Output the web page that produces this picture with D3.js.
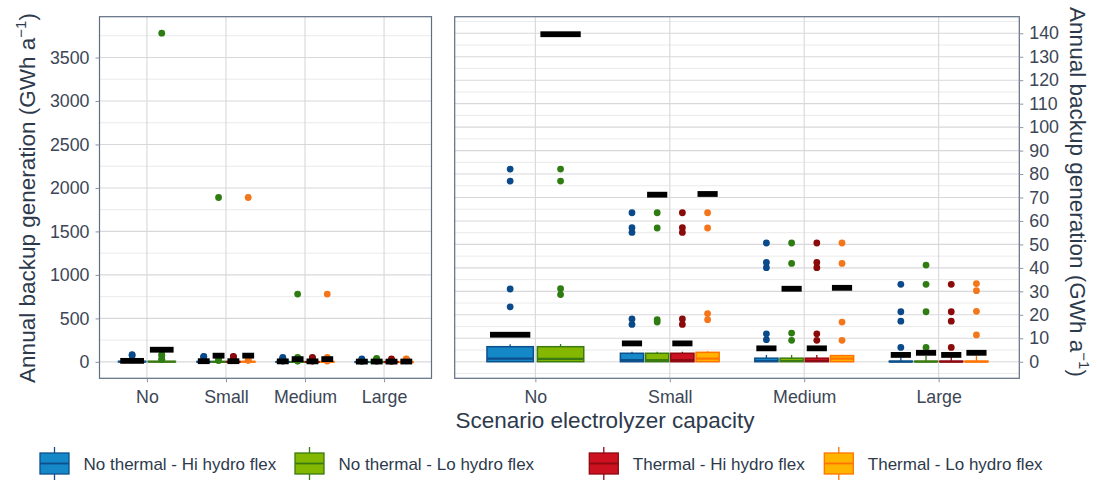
<!DOCTYPE html>
<meta charset="utf-8">
<style>
  body { margin: 0; background: #fff; }
  text { font-family: "Liberation Sans", Arial, sans-serif; }
</style>
<body>
<svg id="chart" width="1097" height="481"></svg>
<script src="https://d3js.org/d3.v7.min.js"></script>
<script>
// ---- data (GWh a^-1) ----
var categories = ["No", "Small", "Medium", "Large"];
var groups = ["No thermal - Hi hydro flex", "No thermal - Lo hydro flex",
              "Thermal - Hi hydro flex", "Thermal - Lo hydro flex"];

// box stats per category: [lower whisker, q1, median, q3, upper whisker]; null = scenario absent
var boxNoThermalHi = [[0, 0, 1.3, 6.4, 7.4], [0, 0, 0.7, 3.6, 4.3], [0, 0, 0.3, 1.5, 2.9], [0, 0, 0, 0.2, 2.5]];
var boxNoThermalLo = [[0, 0, 1.2, 6.4, 7.5], [0, 0, 0.7, 3.6, 4.3], [0, 0, 0.3, 1.5, 2.9], [0, 0, 0, 0.2, 2.5]];
var boxThermalHi   = [null, [0, 0, 0.7, 3.6, 4.3], [0, 0, 0.3, 1.5, 2.9], [0, 0, 0, 0.2, 2.5]];
var boxThermalLo   = [null, [0, 0, 1.3, 4.0, 4.5], [0, 0, 1.3, 2.6, 3.0], [0, 0, 0, 0.2, 2.5]];

var meanNoThermalHi = [11.5, 7.8, 5.7, 2.9];
var meanNoThermalLo = [139.6, 71.2, 31.1, 3.8];
var meanThermalHi   = [null, 7.8, 5.7, 2.9];
var meanThermalLo   = [null, 71.5, 31.5, 3.8];

var outNoThermalHi = [[82.1, 77.0, 31.0, 23.4], [63.5, 57.1, 55.1, 18.2, 15.9], [50.6, 42.3, 40.1, 11.9, 9.4], [33.0, 21.3, 17.3, 6.1]];
var outNoThermalLo = [[3780, 82.1, 77.0, 31.1, 28.6], [1890, 63.5, 57.0, 17.9, 16.9], [780, 50.6, 41.9, 12.2, 9.1], [41.2, 33.0, 21.3, 6.1]];
var outThermalHi   = [null, [63.5, 57.1, 55.1, 18.2, 15.9], [50.6, 42.3, 40.1, 11.9, 9.1], [33.0, 21.3, 17.3, 6.1]];
var outThermalLo   = [null, [1890, 63.5, 57.0, 20.5, 17.9], [780, 50.6, 41.9, 16.9, 9.1], [33.3, 30.3, 21.5, 11.4]];

var leftTicks = [0, 500, 1000, 1500, 2000, 2500, 3000, 3500];
var rightTicks = d3.range(0, 141, 10);

// ---- styling ----
var fills   = ["#1589c8", "#84b800", "#cc1120", "#ffb400"];
var strokes = ["#0d4f8b", "#3a7a10", "#8e0a12", "#ff7400"];
var dots    = ["#0b4a8a", "#2f7d12", "#8b0a0a", "#f5761a"];
var textCol = "#2d3a4c";

var boxes = [boxNoThermalHi, boxNoThermalLo, boxThermalHi, boxThermalLo];
var means = [meanNoThermalHi, meanNoThermalLo, meanThermalHi, meanThermalLo];
var outs  = [outNoThermalHi, outNoThermalLo, outThermalHi, outThermalLo];

// flatten into one record per (category, group)
var records = [];
categories.forEach(function(c, ci) {
    var present = d3.range(groups.length).filter(function(g) { return boxes[g][ci] != null; });
    present.forEach(function(g, k) {
        records.push({ cat: c, g: g, k: k, n: present.length,
                       box: boxes[g][ci], mean: means[g][ci], outs: outs[g][ci] });
    });
});

var svg = d3.select("#chart");
var panelTop = 16.7, panelBottom = 378.3;

function drawPanel(id, x0, x1, domain, ticks, minorStep, side) {
    var x = d3.scalePoint().domain(categories).range([x0, x1]).padding(0.6);
    var y = d3.scaleLinear().domain(domain).range([panelBottom, panelTop]);
    var step = x.step();
    var g = svg.append("g");

    g.append("clipPath").attr("id", id).append("rect")
        .attr("x", x0).attr("y", panelTop).attr("width", x1 - x0).attr("height", panelBottom - panelTop);

    // grid
    var minor = d3.range(Math.ceil(domain[0] / minorStep) * minorStep, domain[1], minorStep)
        .filter(function(v) { return ticks.indexOf(v) < 0; });
    g.selectAll(".minor").data(minor).enter().append("line")
        .attr("x1", x0).attr("x2", x1).attr("y1", y).attr("y2", y)
        .attr("stroke", "#e4e4e6").attr("stroke-width", 0.8);
    g.selectAll(".major").data(ticks).enter().append("line")
        .attr("x1", x0).attr("x2", x1).attr("y1", y).attr("y2", y)
        .attr("stroke", "#d8d8dc").attr("stroke-width", 1.1);
    g.selectAll(".vgrid").data(categories).enter().append("line")
        .attr("x1", x).attr("x2", x).attr("y1", panelTop).attr("y2", panelBottom)
        .attr("stroke", "#d8d8dc").attr("stroke-width", 1.1);

    var plot = g.append("g").attr("clip-path", "url(#" + id + ")");
    function slot(d) { return step * 0.75 / d.n; }
    function cx(d) { return x(d.cat) - step * 0.375 + slot(d) * (d.k + 0.5); }

    var rec = plot.selectAll(".rec").data(records).enter().append("g");
    // whiskers
    rec.append("line")
        .attr("x1", cx).attr("x2", cx)
        .attr("y1", function(d) { return y(d.box[4]); })
        .attr("y2", function(d) { return y(d.box[0]); })
        .attr("stroke", function(d) { return strokes[d.g]; }).attr("stroke-width", 1.3);
    // box
    rec.append("rect")
        .attr("x", function(d) { return cx(d) - slot(d) * 0.46; })
        .attr("width", function(d) { return slot(d) * 0.92; })
        .attr("y", function(d) { return y(d.box[3]); })
        .attr("height", function(d) { return Math.max(y(d.box[1]) - y(d.box[3]), 0.5); })
        .attr("fill", function(d) { return fills[d.g]; })
        .attr("stroke", function(d) { return strokes[d.g]; }).attr("stroke-width", 1.5);
    // median
    rec.append("line")
        .attr("x1", function(d) { return cx(d) - slot(d) * 0.46; })
        .attr("x2", function(d) { return cx(d) + slot(d) * 0.46; })
        .attr("y1", function(d) { return y(d.box[2]); })
        .attr("y2", function(d) { return y(d.box[2]); })
        .attr("stroke", function(d) { return strokes[d.g]; }).attr("stroke-width", 2.2);
    // outliers
    rec.selectAll("circle").data(function(d) {
            return d.outs.map(function(v) { return { v: v, d: d }; });
        }).enter().append("circle")
        .attr("cx", function(o) { return cx(o.d); })
        .attr("cy", function(o) { return y(o.v); })
        .attr("r", 3.4)
        .attr("fill", function(o) { return dots[o.d.g]; });
    // means
    rec.append("rect")
        .attr("x", function(d) { return cx(d) - slot(d) * 0.4; })
        .attr("width", function(d) { return slot(d) * 0.8; })
        .attr("y", function(d) { return y(d.mean) - 2.9; })
        .attr("height", 5.8)
        .attr("fill", "#000");

    // border
    g.append("rect").attr("x", x0).attr("y", panelTop).attr("width", x1 - x0).attr("height", panelBottom - panelTop)
        .attr("fill", "none").attr("stroke", "#5f6e82").attr("stroke-width", 1.2);

    // axes
    var xa = g.append("g").attr("transform", "translate(0," + panelBottom + ")")
        .call(d3.axisBottom(x).tickSize(4).tickPadding(5));
    var ya;
    if (side == "left") {
        ya = g.append("g").attr("transform", "translate(" + x0 + ",0)")
            .call(d3.axisLeft(y).tickValues(ticks).tickFormat(d3.format("d")).tickSize(4).tickPadding(6));
    } else {
        ya = g.append("g").attr("transform", "translate(" + x1 + ",0)")
            .call(d3.axisRight(y).tickValues(ticks).tickFormat(d3.format("d")).tickSize(4).tickPadding(6));
    }
    [xa, ya].forEach(function(a) {
        a.select(".domain").remove();
        a.selectAll(".tick line").attr("stroke", "#8a94a2");
        a.selectAll(".tick text").attr("fill", "#3c4656").style("font-size", "17.8px")
            .style("font-family", "'Liberation Sans', Arial, sans-serif");
    });
    xa.selectAll(".tick text").attr("dy", "0.88em");
}

drawPanel("clipL", 99.5, 431.5, [-189, 3969], leftTicks, 250, "left");
drawPanel("clipR", 454.7, 1019.3, [-7.07, 147.07], rightTicks, 5, "right");

// axis titles
function unitTitle(sel) {
    sel.style("font-size", "22.5px").attr("fill", textCol).attr("text-anchor", "middle");
    sel.append("tspan").text("Annual backup generation (GWh a");
    sel.append("tspan").text("\u22121").attr("dy", -9).style("font-size", "15px");
    sel.append("tspan").text(")").attr("dy", 9);
}
svg.append("text").attr("transform", "translate(35,198) rotate(-90)").call(unitTitle);
svg.append("text").attr("transform", "translate(1069.5,192) rotate(90)").call(unitTitle);

svg.append("text").attr("x", 605).attr("y", 428)
    .attr("text-anchor", "middle").attr("fill", textCol).style("font-size", "22.5px")
    .text("Scenario electrolyzer capacity");

// legend
var legendX = [40, 295, 589.3, 824.3];
var leg = svg.selectAll(".leg").data(groups).enter().append("g")
    .attr("transform", function(d, i) { return "translate(" + legendX[i] + ",453)"; });
leg.append("line").attr("x1", 14.5).attr("x2", 14.5).attr("y1", -6).attr("y2", 27)
    .attr("stroke", function(d, i) { return strokes[i]; }).attr("stroke-width", 1.3);
leg.append("rect").attr("width", 29).attr("height", 21)
    .attr("fill", function(d, i) { return fills[i]; })
    .attr("stroke", function(d, i) { return strokes[i]; }).attr("stroke-width", 1.3);
leg.append("line").attr("x1", 0).attr("x2", 29).attr("y1", 10.5).attr("y2", 10.5)
    .attr("stroke", function(d, i) { return strokes[i]; }).attr("stroke-width", 1.8);
leg.append("text").attr("x", 43.5).attr("y", 16.5)
    .attr("fill", textCol).style("font-size", "17px")
    .text(function(d) { return d; });
</script>
</body>
